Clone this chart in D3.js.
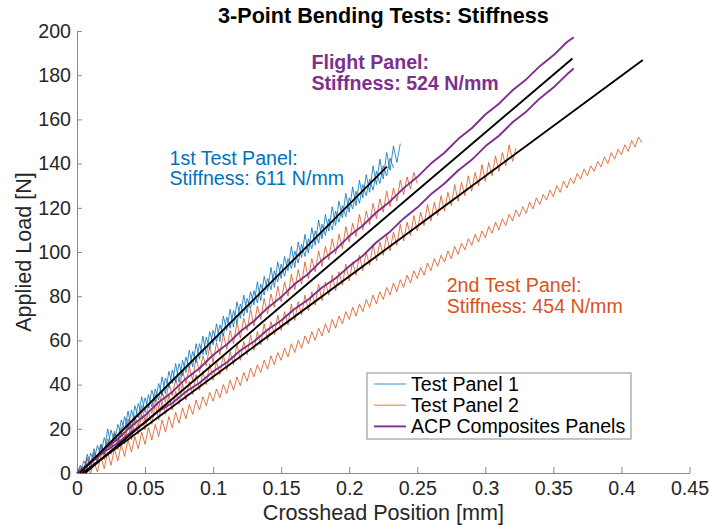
<!DOCTYPE html>
<html>
<head>
<meta charset="utf-8">
<script src="https://cdn.jsdelivr.net/npm/d3@7"></script>
<style>
  body { margin: 0; background: #fff; }
  svg { display: block; }
  text { font-family: "Liberation Sans", Arial, Helvetica, sans-serif; }
</style>
</head>
<body>
<svg id="chart"></svg>
<script>
// shared crosshead grid for the raw test records [mm]
const xGrid = [0,.0025,.005,.0075,.01,.0125,.015,.0175,
  .02,.0225,.025,.0275,.03,.0325,.035,.0375,
  .04,.0425,.045,.0475,.05,.0525,.055,.0575,
  .06,.0625,.065,.0675,.07,.0725,.075,.0775,
  .08,.0825,.085,.0875,.09,.0925,.095,.0975,
  .1,.1025,.105,.1075,.11,.1125,.115,.1175,
  .12,.1225,.125,.1275,.13,.1325,.135,.1375,
  .14,.1425,.145,.1475,.15,.1525,.155,.1575,
  .16,.1625,.165,.1675,.17,.1725,.175,.1775,
  .18,.1825,.185,.1875,.19,.1925,.195,.1975,
  .2,.2025,.205,.2075,.21,.2125,.215,.2175,
  .22,.2225,.225,.2275,.23,.2325,.235,.2375,
  .24,.2425,.245,.2475,.25,.2525,.255,.2575,
  .26,.2625,.265,.2675,.27,.2725,.275,.2775,
  .28,.2825,.285,.2875,.29,.2925,.295,.2975,
  .3,.3025,.305,.3075,.31,.3125,.315,.3175,
  .32,.3225,.325,.3275,.33,.3325,.335,.3375,
  .34,.3425,.345,.3475,.35,.3525,.355,.3575,
  .36,.3625,.365,.3675,.37,.3725,.375,.3775,
  .38,.3825,.385,.3875,.39,.3925,.395,.3975,
  .4,.4025,.405,.4075,.41,.4125,.415]

// Test Panel 1 (two runs) [N]
const blue1 = [0,3.5,1,8.5,4,11,5,13,8.5,20,
  12.5,18,14.5,24,19.5,28,20,30.5,25,34.5,
  27.5,35.5,30,38,33,43.5,36,46,40.5,49.5,
  41,51,45.5,55.5,48,58.5,51.5,62,53.5,64,
  58,67.5,59.5,71,64.5,74,66,77.5,70,80.5,
  72.5,82,76,86.5,78,89,82.5,93,84,95.5,
  88,98,91.5,102.5,93,104.5,97.5,108,99.5,111,
  103,114.5,106,117,109.5,120.5,112,123,115.5,126.5,
  118,129.5,121,132.5,124.5,135,127,139,130.5,142,
  133,145,137,148,140.5,149]
const blue2 = [0,0.5,5.5,2.5,9,5.5,12.5,8,16,11.5,
  19.5,14,22,17.5,25.5,20,28.5,23.5,31.5,27,
  34,29.5,37.5,32,40.5,35,43,38.5,46.5,41,
  49.5,44,52.5,47.5,55,50,58.5,53.5,61.5,56,
  64.5,59.5,67,62,70.5,65.5,73.5,68,76.5,71,
  79,74.5,82.5,77,85.5,80.5,88,83,91.5,86.5,
  94.5,89,97,92.5,100.5,95,103.5,98,106,101.5,
  109.5,104,112.5,107.5,115,110,118.5,113.5,121,116,
  124.5,119.5,127.5,122,130.5,125.5,133,128,136.5,131,
  139,134.5,142.5,138]

// Test Panel 2 (three runs) [N]
const orangeA = [0,2.5,0.5,7,3,9.5,5.5,13,8,15.5,
  11,19,13.5,20.5,16.5,24.5,18.5,26,21,30.5,
  23.5,31,27,35.5,29,37,32,41,35,42.5,
  37,46.5,40.5,48,42,52.5,45.5,53,48.5,57.5,
  50,59,53.5,63,56,64.5,58.5,68.5,61,70,
  64.5,74,66.5,75.5,69.5,79,72,81,75,84.5,
  77.5,86.5,80,90,83,92,85.5,95.5,88,97,
  91,100.5,93.5,102.5,96.5,106,99,108,101.5,111.5,
  104.5,113,107,117,110,118.5,112.5,122,115,124,
  118,127.5,120.5,129,123,132.5,126,134,128.5,136,
  131]
const orangeB = [0,3,0,6.5,1.5,9,4,12.5,6,14,
  8.5,17.5,10.5,19,13,22.5,15,23.5,17.5,26.5,
  19.5,28,22,31.5,24,32.5,26.5,35.5,28.5,37,
  31,40.5,33,41.5,35.5,44.5,37.5,46,40,49.5,
  42,50.5,44.5,53.5,46.5,55,49,58.5,51,59.5,
  53.5,62.5,55.5,64,58,67.5,60,68.5,62.5,71.5,
  64.5,73,67,76.5,69,77.5,71.5,80.5,73.5,82,
  76,85.5,78,86.5,80.5,89.5,82.5,91,85,94.5,
  87,95.5,89.5,98.5,91.5,100,94,103.5,96,104.5,
  98.5,107.5,100.5,109,103,112.5,105,113.5,107.5,116.5,
  109.5,118,112,121.5,114,122.5,116.5,125.5,118.5,127,
  121,130.5,123,131.5,125.5,134.5,127.5,136,130,139.5,
  132,140.5,134.5,143.5,136.5,145,139,148.5,141,147]
const orangeC = [0,0.5,0,2.5,0,5,0.5,7.5,2,9.5,
  3.5,11,5.5,13,7.5,15,9.5,16.5,11,18.5,
  13,20.5,15,22,16.5,24,18.5,25.5,20.5,27.5,
  22.5,29.5,24.5,31,26.5,33,28.5,34.5,30.5,36.5,
  32.5,38,34,40,36,42,37.5,43.5,39.5,45.5,
  41.5,47.5,43.5,49,45.5,51,47,53,49,54.5,
  51,56.5,52.5,58.5,54.5,60,56.5,62,58.5,64,
  60,65.5,62,67.5,63.5,69.5,65.5,71,67.5,73,
  69.5,75,71,76.5,73,78.5,75,80.5,76.5,82,
  78.5,84,80.5,86,82,87.5,84,89.5,86,91.5,
  88,93,89.5,95,91.5,97,93.5,98.5,95.5,100.5,
  97,102.5,99,104,101,106,103,108,104.5,109.5,
  106.5,111.5,108.5,113.5,110,115,112,117,114,119,
  116,120.5,117.5,122.5,119.5,124.5,121.5,126,123.5,128,
  125,130,127,132,129,133.5,131,135.5,133,137.5,
  134.5,139,136.5,141,138.5,143,140,145,142,146.5,
  144,148.5,145.5,150.5,147.5,152,149.5]

// ACP composites panels (flight panel) [N]
const xPurple = [0,.01,.02,.03,.04,.05,.06,.07,.08,.09,.1,.11,.12,.13,.14,.15,.16,.17,.18,.19,
  .2,.21,.22,.23,.24,.25,.26,.27,.28,.29,.3,.31,.32,.33,.34,.35,.36,.365]
const purple1 = [0,5.1,10.6,15.4,21.3,26.1,32.0,36.7,42.7,47.4,
  53.4,58.1,64.0,68.8,74.7,79.6,85.5,90.2,96.3,101.1,
  107.2,112.0,118.0,122.9,128.9,133.9,140.0,144.9,151.1,156.0,
  162.2,167.1,173.2,178.1,184.1,189.0,195.0,197.2]
const purple2 = [0,4.5,9.6,13.6,18.7,22.8,28.0,31.7,36.8,40.7,
  45.9,50.0,55.4,59.5,64.8,69.0,74.3,78.5,83.9,88.1,
  93.5,98.3,104.4,109.2,115.2,120.1,126.1,131.0,136.9,141.7,
  147.8,152.6,158.7,163.5,169.5,174.4,180.4,183]

// linear stiffness fits, end points
const fitX611 = [0.002, 0.2277], fitY611 = [0, 138.6]
const fitX524 = [0.006, 0.364],  fitY524 = [0, 187.6]
const fitX454 = [0.004, 0.4157], fitY454 = [0, 186.9]

const xTicks = [0, 0.05, 0.1, 0.15, 0.2, 0.25, 0.3, 0.35, 0.4, 0.45]
const xTickLabels = ['0', '0.05', '0.1', '0.15', '0.2', '0.25', '0.3', '0.35', '0.4', '0.45']
const yTicks = [0, 20, 40, 60, 80, 100, 120, 140, 160, 180, 200]

const legendNames = ['Test Panel 1', 'Test Panel 2', 'ACP Composites Panels']

const blue = '#0072BD', orange = '#D95319', purple = '#7E2F8E'

// container
    const width = 710
    const height = 525
    const svg = d3.select('#chart')
        .attr('width', width)
        .attr('height', height)

// scales
    const xScale = d3.scaleLinear().domain([0, 0.45]).range([77, 689.5])
    const yScale = d3.scaleLinear().domain([0, 200]).range([473, 31])

// axes (ticks point inward, no box)
    const xAxis = d3.axisBottom(xScale)
        .tickValues(xTicks)
        .tickFormat((d, i) => xTickLabels[i])
        .tickSizeInner(-6)
        .tickSizeOuter(0)
        .tickPadding(8)
    const yAxis = d3.axisLeft(yScale)
        .tickValues(yTicks)
        .tickFormat(d => d)
        .tickSizeInner(-5)
        .tickSizeOuter(0)
        .tickPadding(6)
    const gx = svg.append('g')
        .attr('transform', `translate(0, ${yScale(0)})`)
        .call(xAxis)
    const gy = svg.append('g')
        .attr('transform', `translate(${xScale(0)}, 0)`)
        .call(yAxis)
    ;[gx, gy].forEach(g => {
        g.select('.domain').attr('stroke', '#8a8a8a')
        g.selectAll('.tick line').attr('stroke', '#8a8a8a')
        g.selectAll('.tick text')
            .attr('fill', '#262626')
            .style('font-size', '19.6px')
            .style('font-family', '"Liberation Sans", Arial, sans-serif')
    })

// raw curves
    const line = d3.line()
        .x(d => xScale(d[0]))
        .y(d => yScale(d[1]))
    const pairs = (xs, ys) => ys.map((v, i) => [xs[i], v])

    const drawCurve = (xs, ys, color, w) => svg.append('path')
        .datum(pairs(xs, ys))
        .attr('d', line)
        .attr('fill', 'none')
        .attr('stroke', color)
        .attr('stroke-width', w)
        .attr('stroke-linejoin', 'round')

    drawCurve(xGrid, orangeC, orange, 0.8)
    drawCurve(xGrid, orangeB, orange, 0.8)
    drawCurve(xGrid, orangeA, orange, 0.8)
    drawCurve(xGrid, blue1, blue, 0.8)
    drawCurve(xGrid, blue2, blue, 0.8)
    drawCurve(xPurple, purple1, purple, 1.9)
    drawCurve(xPurple, purple2, purple, 1.9)

// fit lines
    drawCurve(fitX611, fitY611, '#000', 1.9)
    drawCurve(fitX524, fitY524, '#000', 1.9)
    drawCurve(fitX454, fitY454, '#000', 1.9)

// title and axis labels
    svg.append('text')
        .attr('x', 383.4).attr('y', 22.5)
        .attr('text-anchor', 'middle')
        .style('font-size', '21.6px').style('font-weight', 'bold')
        .attr('fill', '#000')
        .text('3-Point Bending Tests: Stiffness')
    svg.append('text')
        .attr('x', 383.4).attr('y', 519.5)
        .attr('text-anchor', 'middle')
        .style('font-size', '21.6px')
        .attr('fill', '#262626')
        .text('Crosshead Position [mm]')
    svg.append('text')
        .attr('transform', 'translate(30.5, 252) rotate(-90)')
        .attr('text-anchor', 'middle')
        .style('font-size', '21.6px')
        .attr('fill', '#262626')
        .text('Applied Load [N]')

// annotations
    const note = (x, y, lines, color, bold) => {
        lines.forEach((t, i) => {
            svg.append('text')
                .attr('x', x).attr('y', y + i * 20.7)
                .attr('fill', color)
                .style('font-size', '19.6px')
                .style('font-weight', bold ? 'bold' : 'normal')
                .text(t)
        })
    }
    note(169.5, 164.7, ['1st Test Panel:', 'Stiffness: 611 N/mm'], blue, false)
    note(311.5, 69, ['Flight Panel:', 'Stiffness: 524 N/mm'], purple, true)
    note(446.7, 292, ['2nd Test Panel:', 'Stiffness: 454 N/mm'], orange, false)

// legend
    const legend = svg.append('g')
    legend.append('rect')
        .attr('x', 367).attr('y', 373)
        .attr('width', 264).attr('height', 66)
        .attr('fill', '#fff')
        .attr('stroke', '#8a8a8a')
        .attr('stroke-width', 1)
    const legendStyle = [[blue, 0.8], [orange, 0.8], [purple, 1.9]]
    legendNames.forEach((name, i) => {
        const yy = 384 + i * 21.2
        legend.append('line')
            .attr('x1', 374).attr('x2', 406)
            .attr('y1', yy).attr('y2', yy)
            .attr('stroke', legendStyle[i][0])
            .attr('stroke-width', legendStyle[i][1])
        legend.append('text')
            .attr('x', 411).attr('y', yy + 6.5)
            .attr('fill', '#000')
            .style('font-size', '19.6px')
            .text(name)
    })
</script>
</body>
</html>
